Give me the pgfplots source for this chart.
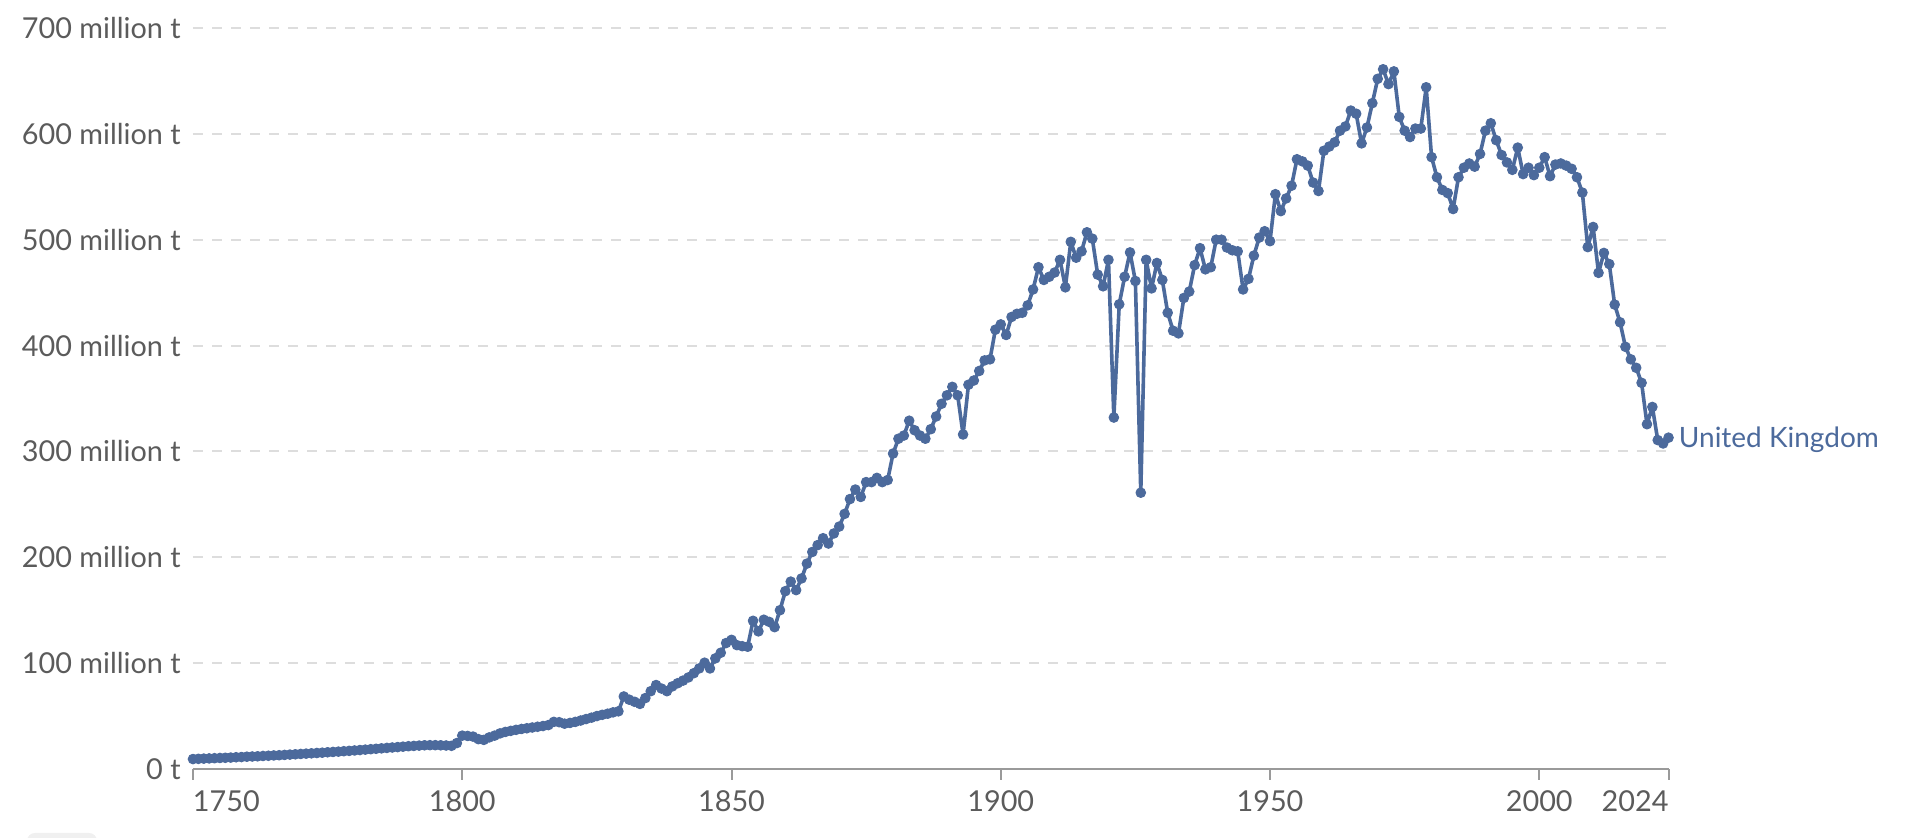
\documentclass[border=0pt]{standalone}
\usepackage{fontspec}
\setmainfont{Lato}
\usepackage{pgfplots}
\usepackage{pgfplotstable}
\pgfplotsset{compat=1.18}
\definecolor{owid}{HTML}{4C6A9C}
\definecolor{tickgray}{HTML}{5B5B5B}
\definecolor{gridgray}{HTML}{DDDDDD}
\definecolor{axisgray}{HTML}{9A9A9A}
\pgfplotstableread{
year value
1750 9.4
1751 9.6
1752 9.8
1753 10.0
1754 10.2
1755 10.4
1756 10.6
1757 10.8
1758 11.1
1759 11.3
1760 11.6
1761 11.8
1762 12.0
1763 12.3
1764 12.5
1765 12.8
1766 13.0
1767 13.3
1768 13.6
1769 13.9
1770 14.2
1771 14.5
1772 14.8
1773 15.1
1774 15.4
1775 15.8
1776 16.1
1777 16.4
1778 16.8
1779 17.1
1780 17.5
1781 17.9
1782 18.3
1783 18.7
1784 19.1
1785 19.5
1786 19.9
1787 20.3
1788 20.7
1789 21.1
1790 21.5
1791 21.8
1792 22.1
1793 22.4
1794 22.5
1795 22.5
1796 22.4
1797 22.2
1798 21.9
1799 24.5
1800 31.5
1801 31.2
1802 30.6
1803 28.2
1804 27.5
1805 29.8
1806 31.5
1807 33.6
1808 35.0
1809 36.0
1810 37.0
1811 37.8
1812 38.5
1813 39.2
1814 39.9
1815 40.6
1816 41.5
1817 44.5
1818 44.2
1819 42.8
1820 43.5
1821 44.5
1822 45.8
1823 47.2
1824 48.5
1825 50.0
1826 51.2
1827 52.2
1828 53.5
1829 54.5
1830 68.5
1831 65.5
1832 63.5
1833 61.5
1834 67.0
1835 73.5
1836 79.3
1837 76.0
1838 73.5
1839 78.0
1840 81.0
1841 83.5
1842 86.5
1843 90.5
1844 95.0
1845 100.4
1846 95.0
1847 104.5
1848 109.8
1849 119.0
1850 122.0
1851 117.0
1852 116.0
1853 115.5
1854 140.0
1855 130.0
1856 141.0
1857 139.0
1858 134.0
1859 150.0
1860 168.0
1861 177.0
1862 169.0
1863 180.0
1864 194.0
1865 205.0
1866 211.5
1867 218.0
1868 213.0
1869 222.5
1870 229.0
1871 241.0
1872 255.0
1873 264.0
1874 257.0
1875 271.0
1876 271.0
1877 275.0
1878 271.0
1879 273.0
1880 298.0
1881 312.0
1882 315.0
1883 329.0
1884 320.0
1885 315.0
1886 312.0
1887 321.0
1888 333.0
1889 345.0
1890 353.0
1891 361.0
1892 353.0
1893 316.0
1894 363.0
1895 367.0
1896 376.0
1897 386.0
1898 387.0
1899 415.0
1900 420.0
1901 410.0
1902 427.0
1903 430.0
1904 431.0
1905 438.0
1906 453.0
1907 474.0
1908 462.0
1909 465.0
1910 469.0
1911 481.0
1912 455.0
1913 498.0
1914 483.0
1915 489.0
1916 507.0
1917 501.0
1918 467.0
1919 456.0
1920 481.0
1921 332.0
1922 439.0
1923 465.0
1924 488.0
1925 461.0
1926 261.0
1927 481.0
1928 454.0
1929 478.0
1930 462.0
1931 431.0
1932 414.0
1933 411.5
1934 445.0
1935 451.0
1936 476.0
1937 492.0
1938 472.0
1939 474.0
1940 500.0
1941 500.0
1942 492.6
1943 490.0
1944 489.0
1945 453.0
1946 463.0
1947 485.0
1948 502.0
1949 508.0
1950 498.6
1951 543.0
1952 527.0
1953 539.0
1954 551.0
1955 576.0
1956 574.0
1957 570.0
1958 554.0
1959 546.0
1960 584.0
1961 588.0
1962 592.0
1963 603.0
1964 607.0
1965 622.0
1966 619.0
1967 591.0
1968 606.0
1969 629.0
1970 652.0
1971 661.0
1972 647.0
1973 659.0
1974 616.0
1975 603.0
1976 597.0
1977 605.0
1978 605.0
1979 644.0
1980 578.0
1981 559.0
1982 547.0
1983 544.0
1984 529.0
1985 559.0
1986 568.0
1987 572.0
1988 569.0
1989 581.0
1990 603.0
1991 610.0
1992 594.0
1993 580.0
1994 573.0
1995 566.0
1996 587.0
1997 562.0
1998 568.0
1999 561.0
2000 568.0
2001 578.0
2002 560.0
2003 571.0
2004 572.0
2005 570.0
2006 567.0
2007 559.0
2008 544.5
2009 493.0
2010 512.0
2011 468.7
2012 487.5
2013 477.0
2014 438.7
2015 422.0
2016 398.8
2017 387.0
2018 379.0
2019 364.8
2020 325.7
2021 342.0
2022 310.7
2023 307.5
2024 313.0
}\ukdata
\begin{document}
\begin{tikzpicture}
\path[use as bounding box] (0,0) rectangle (960pt,419pt);
\fill[black!6, rounded corners=4pt] (13.5pt,-8pt) rectangle (48.5pt,2.5pt);
\begin{axis}[
  at={(96.5pt,34.5pt)}, anchor=south west,
  scale only axis, width=737.75pt, height=370.5pt,
  xmin=1750, xmax=2024, ymin=0, ymax=700,
  clip=false,
  axis x line=bottom, axis y line=left,
  x axis line style={-, draw=axisgray, line width=1pt},
  y axis line style={draw=none},
  xtick={1750,1800,1850,1900,1950,2000,2024},
  xticklabels={\makebox[0pt][l]{1750},1800,1850,1900,1950,2000,\makebox[0pt][r]{2024}},
  ytick={0,100,200,300,400,500,600,700},
  yticklabels={0 t,100 million t,200 million t,300 million t,400 million t,500 million t,600 million t,700 million t},
  tick align=outside,
  major tick length=5.5pt,
  xtick style={draw=axisgray, line width=1pt},
  ytick style={draw=none},
  ymajorgrids,
  grid style={gridgray, line width=1pt, dash pattern=on 5pt off 4.5pt},
  tick label style={font=\fontsize{14.4}{16}\selectfont, text=tickgray},
  xticklabel style={inner sep=0pt, anchor=north, yshift=-5pt},
  yticklabel style={inner sep=0pt, anchor=east, xshift=-0.5pt},
]
\addplot[owid, line width=1.8pt, line join=round, mark=*, mark size=2.4pt, mark options={fill=owid, draw=owid, solid, line width=0.5pt}]
  table[x=year, y=value] {\ukdata};
\node[anchor=base west, text=owid, font=\fontsize{14}{16}\selectfont, inner sep=0pt, xshift=5pt, yshift=-5pt]
  at (axis cs:2024,313) {United Kingdom};
\end{axis}
\end{tikzpicture}
\end{document}
